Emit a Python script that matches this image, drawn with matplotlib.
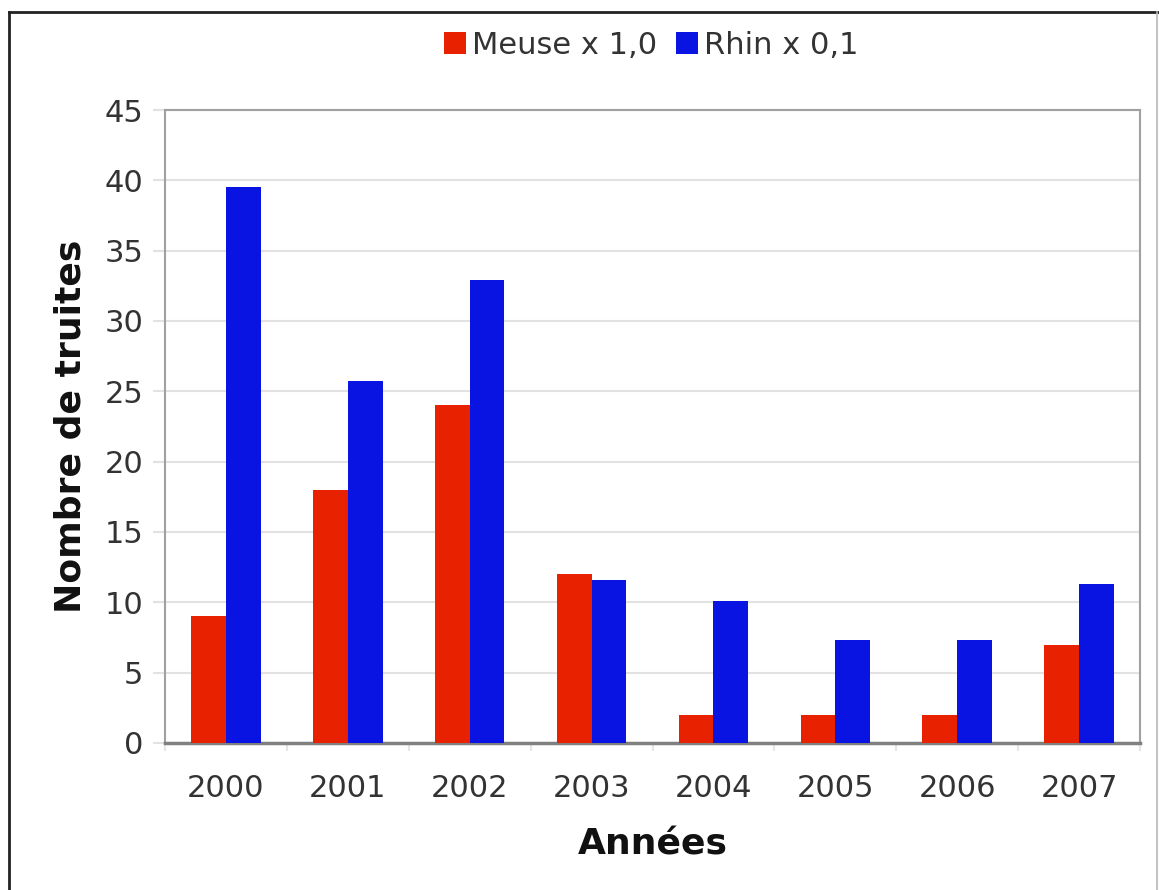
import matplotlib.pyplot as plt
from matplotlib.lines import Line2D
import numpy as np

years = ["2000", "2001", "2002", "2003", "2004", "2005", "2006", "2007"]
meuse = [9, 18, 24, 12, 2, 2, 2, 7]
rhin = [39.5, 25.7, 32.9, 11.6, 10.1, 7.3, 7.3, 11.3]

red = "#e82200"
blue = "#0a14e2"

fig = plt.figure(figsize=(11.59, 8.9), dpi=100)
ax = fig.add_axes([0.1424, 0.1652, 0.8412, 0.7112])

x = np.arange(len(years))
w = 0.285
ax.bar(x - w / 2, meuse, w, color=red, label="Meuse x 1,0", zorder=3)
ax.bar(x + w / 2, rhin, w, color=blue, label="Rhin x 0,1", zorder=3)

ax.set_xlim(-0.5, len(years) - 0.5)
ax.set_ylim(0, 45)
ax.set_yticks(np.arange(0, 46, 5))
ax.set_xticks(x)
ax.set_xticklabels(years)
ax.set_xticks(np.arange(-0.5, len(years)), minor=True)

ax.grid(axis="y", color="#e2e2e2", linewidth=1.5, zorder=0)
for s in ax.spines.values():
    s.set_color("#a0a0a0")
    s.set_linewidth(1.5)
ax.spines["bottom"].set_color("#808080")
ax.spines["bottom"].set_linewidth(2.5)

ax.tick_params(axis="y", length=8.5, color="#e2e2e2", width=1.5,
               labelsize=22, labelcolor="#333333", pad=7)
ax.tick_params(axis="x", which="major", length=0, labelsize=22,
               labelcolor="#333333", pad=22)
ax.tick_params(axis="x", which="minor", length=6, color="#e6e6e6", width=1.5)

ax.set_ylabel("Nombre de truites", fontsize=26, fontweight="bold",
              color="#111111", labelpad=12)
ax.set_xlabel("Années", fontsize=26, fontweight="bold",
              color="#111111", labelpad=18)

fig.legend(loc="center", bbox_to_anchor=(0.562, 0.949), ncol=2,
           frameon=False, fontsize=22, handlelength=0.72, handleheight=0.72,
           handletextpad=0.2, columnspacing=0.6, labelcolor="#333333")

# outer frame
fig.add_artist(Line2D([0.0078, 0.0078], [0.0, 0.9865], color="#222222",
                      linewidth=2, transform=fig.transFigure))
fig.add_artist(Line2D([0.0078, 1.0], [0.9865, 0.9865], color="#222222",
                      linewidth=2, transform=fig.transFigure))
fig.add_artist(Line2D([0.9983, 0.9983], [0.0, 0.9865], color="#b8b8b8",
                      linewidth=1.2, transform=fig.transFigure))

fig.savefig("out.png", dpi=100)
